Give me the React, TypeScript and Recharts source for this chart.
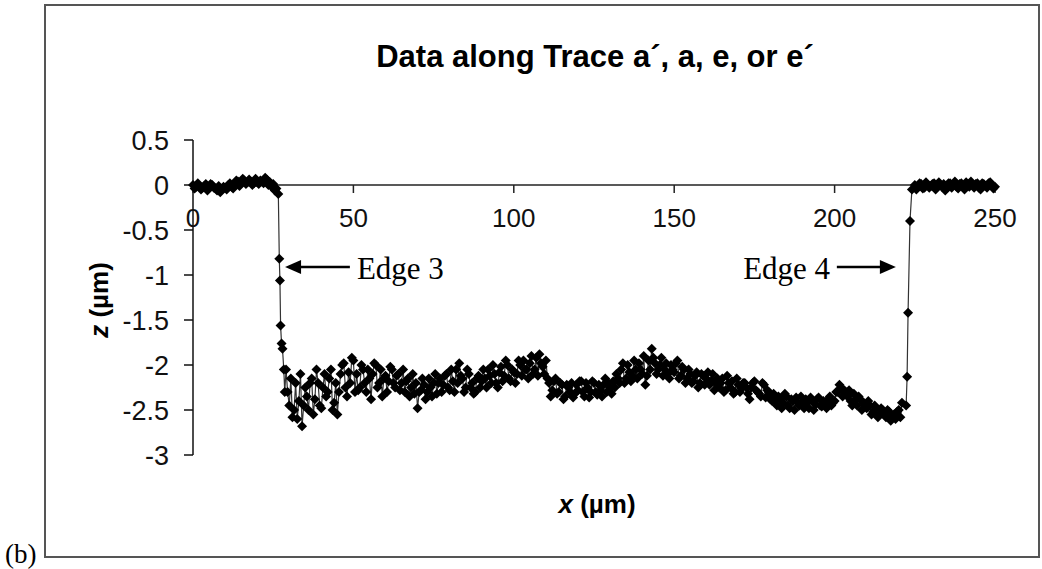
import {
    Line,
    LineChart,
    ReferenceDot,
    ReferenceLine,
    XAxis,
    YAxis,
} from "recharts";

// z (µm) every 1 µm from x = 0 to 26
const leftFlatZ = [
    0, -0.02, -0.01, -0.03, 0.01, -0.02, 0, -0.04, -0.01, -0.05,
    -0.03, 0, -0.02, 0.02, 0.04, 0.02, 0.05, 0.03, 0.04, 0.02,
    0.03, 0.05, 0.02, 0.06, 0.03, 0.01, -0.04,
];
// half-step samples, x = 0.5 to 25.5
const leftFlatHalfZ = [
    -0.04, 0.02, -0.05, -0.01, -0.06, 0.01, -0.03, -0.06, -0.08, -0.02,
    -0.05, 0.02, -0.04, 0.05, -0.01, 0.07, 0.01, 0.06, 0.0, 0.07,
    0.01, 0.04, 0.08, 0.0, -0.02, -0.06,
];

// points on the falling edge (edge 3)
const edge3X = [26.6, 26.9, 27.1, 27.3, 27.6, 27.9, 28.3, 28.6];
const edge3Z = [-0.1, -0.82, -1.06, -1.56, -1.76, -1.82, -2.05, -2.3];

// trench floor, every 1 µm from x = 29 to 221
const trenchZ = [
    -2.05, -2.45, -2.58, -2.2, -2.4, -2.68, -2.25, -2.5, -2.15, -2.38,
    -2.2, -2.48, -2.1, -2.3, -2.05, -2.42, -2.55, -2.1, -1.98, -2.35,
    -2.2, -1.95,
    -2.1, -2.25, -2.05, -2.3, -2.15, -2.1, -2.0, -2.2, -2.35, -2.12,
    -2.18, -2.05, -2.25, -2.1, -2.2, -2.3, -2.15, -2.25, -2.32, -2.48,
    -2.28, -2.22,
    -2.3, -2.25, -2.2, -2.32, -2.15, -2.22, -2.1, -2.28, -2.18, -2.05,
    -1.98, -2.15, -2.25, -2.1, -2.2, -2.3, -2.12, -2.18,
    -2.15, -2.05, -2.2, -2.1, -2.25, -2.02, -2.12, -2.0, -2.18, -2.08,
    -2.1, -2.0, -1.95, -2.05, -1.98, -2.1, -1.92, -1.88, -2.02, -1.95,
    -2.2, -2.28, -2.15, -2.3, -2.22, -2.35, -2.25, -2.2, -2.32, -2.28,
    -2.18, -2.35, -2.25, -2.3, -2.2, -2.33, -2.28, -2.22, -2.3, -2.25,
    -2.18, -2.1, -2.2, -1.98, -2.15, -2.08, -2.12, -2.05, -1.98, -2.1,
    -2.22, -1.95, -1.82, -1.98, -2.05,
    -1.92, -2.05, -2.1, -2.0, -2.08, -1.95, -2.12, -2.05, -2.15, -2.1,
    -2.18, -2.08, -2.2, -2.12, -2.15, -2.22, -2.1, -2.2, -2.25, -2.15,
    -2.28, -2.2, -2.18, -2.3, -2.22, -2.26, -2.2, -2.32, -2.25, -2.18,
    -2.3, -2.35, -2.22, -2.28, -2.38,
    -2.32, -2.45, -2.38, -2.42, -2.35, -2.48, -2.4, -2.36, -2.45, -2.42,
    -2.38, -2.48, -2.4, -2.44, -2.36, -2.46, -2.42, -2.38, -2.45, -2.4,
    -2.3, -2.25, -2.28, -2.35, -2.4, -2.32, -2.45, -2.38, -2.42, -2.48,
    -2.45, -2.52, -2.48, -2.55, -2.5, -2.58, -2.52, -2.56, -2.6, -2.5,
    -2.42,
];
// half-step samples, x = 29.5 to 220.5
const trenchHalfZ = [
    -2.3, -2.15, -2.5, -2.6, -2.1, -2.45, -2.35, -2.2, -2.55, -2.05,
    -2.45, -2.25, -2.35, -2.15, -2.5, -2.2, -2.3, -2.0, -2.25, -2.08,
    -1.92, -2.3,
    -2.28, -2.0, -2.2, -2.05, -2.38, -1.98, -2.25, -2.05, -2.15, -2.3,
    -2.02, -2.2, -2.12, -2.28, -2.05, -2.18, -2.35, -2.1, -2.2, -2.3,
    -2.15, -2.38,
    -2.15, -2.35, -2.1, -2.2, -2.3, -2.12, -2.25, -2.05, -2.3, -2.2,
    -2.12, -2.3, -2.05, -2.25, -2.32, -2.15, -2.25, -2.05,
    -2.25, -2.12, -2.0, -2.2, -2.08, -2.18, -1.95, -2.15, -2.05, -2.2,
    -1.95, -2.12, -2.05, -2.15, -1.9, -2.05, -2.12, -1.98, -2.1, -2.15,
    -2.35, -2.18, -2.32, -2.2, -2.38, -2.22, -2.3, -2.36, -2.22, -2.18,
    -2.3, -2.2, -2.36, -2.18, -2.3, -2.22, -2.35, -2.15, -2.2, -2.32,
    -2.25, -2.15, -2.05, -2.2, -2.0, -2.18, -1.95, -2.15, -2.05, -1.9,
    -2.12, -2.05, -1.92, -2.1, -2.0,
    -2.12, -1.98, -2.15, -2.05, -1.98, -2.15, -2.02, -2.2, -2.05, -2.2,
    -2.12, -2.25, -2.1, -2.22, -2.08, -2.18, -2.28, -2.15, -2.2, -2.3,
    -2.12, -2.25, -2.32, -2.15, -2.3, -2.2, -2.25, -2.38, -2.2, -2.28,
    -2.32, -2.2, -2.36, -2.3, -2.4,
    -2.4, -2.35, -2.48, -2.32, -2.45, -2.38, -2.5, -2.42, -2.35, -2.48,
    -2.42, -2.36, -2.5, -2.38, -2.45, -2.4, -2.48, -2.35, -2.42, -2.3,
    -2.22, -2.35, -2.3, -2.28, -2.45, -2.38, -2.35, -2.5, -2.45, -2.4,
    -2.55, -2.45, -2.58, -2.48, -2.55, -2.5, -2.62, -2.55, -2.52, -2.58,
];

// points on the rising edge (edge 4)
const edge4X = [222.3, 222.6, 222.9, 223.5, 224.1];
const edge4Z = [-2.45, -2.13, -1.42, -0.4, -0.05];

// z (µm) every 1 µm from x = 225 to 250
const rightFlatZ = [
    0, -0.02, 0.01, -0.03, 0, -0.01, 0.02, -0.02, 0, 0.01,
    -0.03, 0.02, 0, -0.02, 0.01, -0.01, 0.03, -0.02, 0, 0.01,
    -0.03, 0.02, -0.01, 0.02, 0, -0.02,
];
// half-step samples, x = 225.5 to 249.5
const rightFlatHalfZ = [
    -0.05, 0.02, -0.04, 0.03, -0.03, 0.01, -0.05, 0.03, -0.02, -0.06,
    0.02, -0.03, 0.04, -0.04, 0.02, -0.05, 0.01, 0.04, -0.03, 0.02,
    -0.05, 0.01, -0.03, 0.03, -0.04,
];

const xTicks = [0, 50, 100, 150, 200, 250];
const yTicks = [-3, -2.5, -2, -1.5, -1, -0.5, 0, 0.5];

const data = [
    ...leftFlatZ.map((z, i) => ({ x: i, z })),
    ...leftFlatHalfZ.map((z, i) => ({ x: 0.5 + i, z })),
    ...edge3X.map((x, i) => ({ x, z: edge3Z[i] })),
    ...trenchZ.map((z, i) => ({ x: 29 + i, z })),
    ...trenchHalfZ.map((z, i) => ({ x: 29.5 + i, z })),
    ...edge4X.map((x, i) => ({ x, z: edge4Z[i] })),
    ...rightFlatZ.map((z, i) => ({ x: 225 + i, z })),
    ...rightFlatHalfZ.map((z, i) => ({ x: 225.5 + i, z })),
].sort((a, b) => a.x - b.x);

const arrowY = -0.91;

const Diamond = (props: any) => {
    const { cx, cy, index } = props;
    if (cx == null || cy == null) return <g key={index} />;
    const r = 5;
    return (
        <polygon
            key={index}
            points={`${cx},${cy - r} ${cx + r},${cy} ${cx},${cy + r} ${cx - r},${cy}`}
            fill="#000"
        />
    );
};

const XTick = (label: number) => (props: any) => (
    <g>
        <line
            x1={props.cx}
            y1={props.cy}
            x2={props.cx}
            y2={props.cy + 8}
            stroke="#222"
            strokeWidth={1.5}
        />
        <text
            x={props.cx}
            y={props.cy + 42}
            textAnchor="middle"
            fontSize={26}
            fontFamily="Arial, 'Liberation Sans'"
            fill="#111"
        >
            {label}
        </text>
    </g>
);

const ArrowHead = (dir: number) => (props: any) => (
    <polygon
        points={`${props.cx},${props.cy} ${props.cx - dir * 16},${props.cy - 7} ${props.cx - dir * 16},${props.cy + 7}`}
        fill="#000"
    />
);

const EdgeText = (text: string, anchor: "start" | "end") => (props: any) => (
    <text
        x={props.cx}
        y={props.cy + 12}
        textAnchor={anchor}
        fontSize={31}
        fontFamily="'Times New Roman', 'Liberation Serif', serif"
        fill="#000"
    >
        {text}
    </text>
);

export default function App() {

    return (
        <div
            style={{
                position: "absolute",
                left: 0,
                top: 0,
                width: 1042,
                height: 569,
                background: "#fff",
            }}
        >
            <div
                style={{
                    position: "absolute",
                    left: 44,
                    top: 4,
                    width: 992,
                    height: 550,
                    border: "2px solid #555",
                }}
            />

            <svg
                width={1042}
                height={569}
                style={{ position: "absolute", left: 0, top: 0 }}
            >
                <text
                    x={595}
                    y={67}
                    textAnchor="middle"
                    fontSize={31}
                    fontWeight="bold"
                    fontFamily="Arial, 'Liberation Sans'"
                >
                    Data along Trace a´, a, e, or e´
                </text>
                <text
                    x={597}
                    y={513}
                    textAnchor="middle"
                    fontSize={26}
                    fontWeight="bold"
                    fontFamily="Arial, 'Liberation Sans'"
                >
                    <tspan fontStyle="italic">x</tspan> (µm)
                </text>
                <text
                    transform="translate(108, 300) rotate(-90)"
                    textAnchor="middle"
                    fontSize={26}
                    fontWeight="bold"
                    fontFamily="Arial, 'Liberation Sans'"
                >
                    <tspan fontStyle="italic">z</tspan> (µm)
                </text>
                <text
                    x={5}
                    y={563}
                    fontSize={27}
                    fontFamily="'Times New Roman', 'Liberation Serif', serif"
                >
                    (b)
                </text>
            </svg>

            <div style={{ position: "absolute", left: 0, top: 0 }}>
                <LineChart
                    width={1042}
                    height={569}
                    data={data}
                    margin={{ top: 140, right: 47, bottom: 114, left: 133 }}
                >
                    <XAxis
                        dataKey="x"
                        type="number"
                        domain={[0, 250]}
                        ticks={xTicks}
                        hide
                    />
                    <YAxis
                        type="number"
                        domain={[-3, 0.5]}
                        ticks={yTicks}
                        interval={0}
                        width={60}
                        tickSize={9}
                        tickMargin={15}
                        axisLine={{ stroke: "#111", strokeWidth: 1.5 }}
                        tickLine={{ stroke: "#111", strokeWidth: 1.5 }}
                        tick={{
                            fill: "#111",
                            fontSize: 27,
                            fontFamily: "Arial, 'Liberation Sans'",
                        }}
                    />

                    <ReferenceLine y={0} stroke="#222" strokeWidth={1.5} />

                    {xTicks.map((t) => (
                        <ReferenceDot
                            key={t}
                            x={t}
                            y={0}
                            r={0}
                            shape={XTick(t)}
                        />
                    ))}

                    <Line
                        type="linear"
                        dataKey="z"
                        stroke="#333"
                        strokeWidth={1.2}
                        dot={Diamond}
                        activeDot={false}
                        isAnimationActive={false}
                    />

                    <ReferenceLine
                        segment={[{ x: 31, y: arrowY }, { x: 48.9, y: arrowY }]}
                        stroke="#000"
                        strokeWidth={2.5}
                    />
                    <ReferenceDot x={28.7} y={arrowY} r={0} shape={ArrowHead(-1)} />
                    <ReferenceDot x={51.1} y={arrowY} r={0} shape={EdgeText("Edge 3", "start")} />

                    <ReferenceLine
                        segment={[{ x: 200.7, y: arrowY }, { x: 216.5, y: arrowY }]}
                        stroke="#000"
                        strokeWidth={2.5}
                    />
                    <ReferenceDot x={219.1} y={arrowY} r={0} shape={ArrowHead(1)} />
                    <ReferenceDot x={198.6} y={arrowY} r={0} shape={EdgeText("Edge 4", "end")} />
                </LineChart>
            </div>
        </div>
    );
}
